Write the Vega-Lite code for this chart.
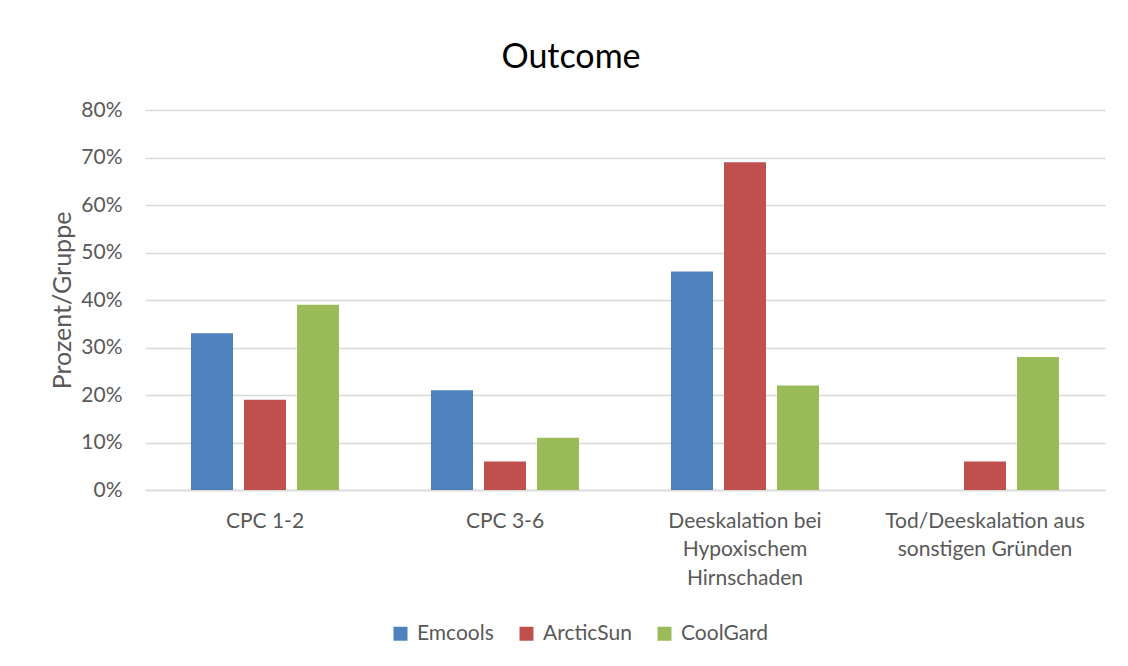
{
  "$schema": "https://vega.github.io/schema/vega-lite/v6.json",
  "autosize": {"type": "none"},
  "width": 960,
  "height": 380,
  "padding": {"left": 145, "top": 110, "right": 23, "bottom": 176},
  "background": "white",
  "title": {
    "text": "Outcome",
    "fontSize": 34,
    "font": "Lato",
    "fontWeight": "normal",
    "color": "#000000",
    "anchor": "middle",
    "dx": -54,
    "offset": 24
  },
  "data": {
    "values": [
      {"kategorie": "CPC 1-2", "geraet": "Emcools", "anteil": 0.33},
      {"kategorie": "CPC 1-2", "geraet": "ArcticSun", "anteil": 0.19},
      {"kategorie": "CPC 1-2", "geraet": "CoolGard", "anteil": 0.39},
      {"kategorie": "CPC 3-6", "geraet": "Emcools", "anteil": 0.21},
      {"kategorie": "CPC 3-6", "geraet": "ArcticSun", "anteil": 0.06},
      {"kategorie": "CPC 3-6", "geraet": "CoolGard", "anteil": 0.11},
      {"kategorie": "Deeskalation bei Hypoxischem Hirnschaden", "geraet": "Emcools", "anteil": 0.46},
      {"kategorie": "Deeskalation bei Hypoxischem Hirnschaden", "geraet": "ArcticSun", "anteil": 0.69},
      {"kategorie": "Deeskalation bei Hypoxischem Hirnschaden", "geraet": "CoolGard", "anteil": 0.22},
      {"kategorie": "Tod/Deeskalation aus sonstigen Gründen", "geraet": "Emcools", "anteil": 0.0},
      {"kategorie": "Tod/Deeskalation aus sonstigen Gründen", "geraet": "ArcticSun", "anteil": 0.06},
      {"kategorie": "Tod/Deeskalation aus sonstigen Gründen", "geraet": "CoolGard", "anteil": 0.28}
    ]
  },
  "mark": {"type": "bar"},
  "encoding": {
    "x": {
      "field": "kategorie",
      "type": "nominal",
      "sort": null,
      "scale": {"paddingInner": 0, "paddingOuter": 0},
      "axis": {
        "title": null,
        "labelAngle": 0,
        "ticks": false,
        "domain": true,
        "domainColor": "#d9d9d9",
        "domainWidth": 1.5,
        "labelFont": "Lato",
        "labelFontSize": 21,
        "labelColor": "#595959",
        "labelPadding": 20,
        "labelLineHeight": 28.5,
        "labelLimit": 0,
        "labelExpr": "datum.value == 'Deeskalation bei Hypoxischem Hirnschaden' ? ['Deeskalation bei', 'Hypoxischem', 'Hirnschaden'] : datum.value == 'Tod/Deeskalation aus sonstigen Gründen' ? ['Tod/Deeskalation aus', 'sonstigen Gründen'] : datum.value"
      }
    },
    "xOffset": {
      "field": "geraet",
      "type": "nominal",
      "sort": ["Emcools", "ArcticSun", "CoolGard"],
      "scale": {"paddingInner": 0.2075, "paddingOuter": 0.868}
    },
    "y": {
      "field": "anteil",
      "type": "quantitative",
      "scale": {"domain": [0, 0.8], "nice": false},
      "axis": {
        "title": "Prozent/Gruppe",
        "titleFont": "Lato",
        "titleFontSize": 25,
        "titleFontWeight": "normal",
        "titleColor": "#595959",
        "titlePadding": 5,
        "format": ".0%",
        "values": [0, 0.1, 0.2, 0.3, 0.4, 0.5, 0.6, 0.7, 0.8],
        "domain": false,
        "ticks": false,
        "labelFont": "Lato",
        "labelFontSize": 21,
        "labelColor": "#595959",
        "labelPadding": 23,
        "grid": true,
        "gridColor": "#d9d9d9",
        "gridWidth": 1.5
      }
    },
    "color": {
      "field": "geraet",
      "type": "nominal",
      "sort": ["Emcools", "ArcticSun", "CoolGard"],
      "scale": {
        "domain": ["Emcools", "ArcticSun", "CoolGard"],
        "range": ["#4F81BD", "#C0504D", "#9BBB59"]
      },
      "legend": {
        "title": null,
        "orient": "none",
        "legendX": 245,
        "legendY": 513,
        "direction": "horizontal",
        "symbolType": "square",
        "symbolSize": 196,
        "symbolStrokeWidth": 0,
        "labelFont": "Lato",
        "labelFontSize": 21,
        "labelColor": "#595959",
        "labelOffset": 6,
        "columnPadding": 22
      }
    }
  },
  "config": {
    "view": {"stroke": null}
  }
}
